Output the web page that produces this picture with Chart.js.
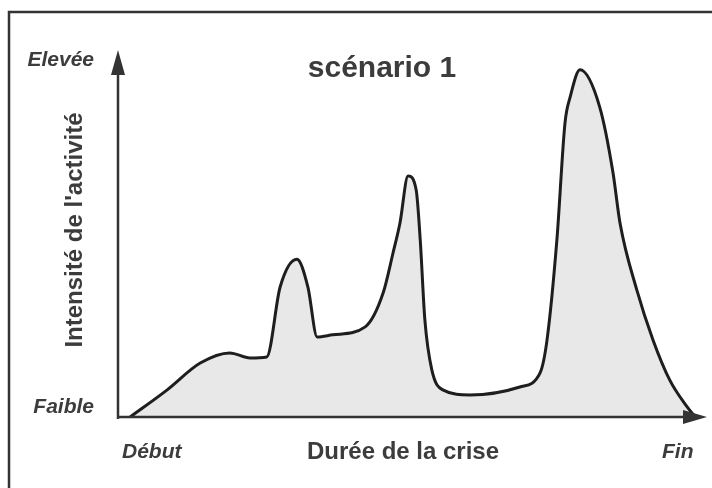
<!DOCTYPE html>
<html>
<head>
<meta charset="utf-8">
<script src="https://cdn.jsdelivr.net/npm/chart.js@4/dist/chart.umd.min.js"></script>
<style>
  body { margin: 0; background: #fff; }
  #wrap { width: 712px; height: 488px; position: relative; }
</style>
</head>
<body>
<div id="wrap"><canvas id="crisisChart" width="712" height="488"></canvas></div>
<script>
// time along the crisis (0 = début, 100 = fin)
const timeSteps = [2.1, 8.5, 14.2, 19.3, 22.8, 25.7, 28.0, 30.9, 32.8, 34.4, 37.1, 42.7, 45.8, 47.5, 48.7, 50.1, 51.5, 52.2, 53.0, 54.2, 56.1, 60.8, 69.4, 72.9, 74.1, 75.8, 77.2, 78.1, 79.8, 83.2, 85.5, 86.7, 89.6, 92.4, 95.3, 98.3, 99.7];
// activity intensity (0 = faible, 100 = élevée)
const intensity = [0, 7.5, 14.9, 17.7, 16.3, 16.6, 35.9, 43.6, 35.9, 22.1, 22.7, 24.9, 34.3, 45.3, 53.6, 66.6, 62.7, 48.9, 26.8, 13.0, 7.5, 6.1, 8.3, 12.2, 21.3, 48.9, 81.2, 88.4, 95.9, 85.6, 67.4, 53.6, 35.1, 21.3, 10.2, 2.8, 0];

const chartTitle = 'scénario 1';
const yTitle = "Intensité de l'activité";
const xTitle = 'Durée de la crise';
const yLabels = ['Faible', 'Elevée'];
const xLabels = ['Début', 'Fin'];

const points = timeSteps.map((t, i) => ({ x: t, y: intensity[i] }));

// frame, arrows and all the text
const decorations = {
    id: 'decorations',
    afterDraw(chart) {
        const ctx = chart.ctx;
        const x0 = chart.scales.x.getPixelForValue(0);
        const y0 = chart.scales.y.getPixelForValue(0);
        ctx.save();
        ctx.strokeStyle = '#333';
        ctx.fillStyle = '#333';

        // outer frame (top + left only)
        ctx.lineWidth = 2.5;
        ctx.beginPath();
        ctx.moveTo(9, 488);
        ctx.lineTo(9, 12);
        ctx.lineTo(712, 12);
        ctx.stroke();

        // axes
        ctx.beginPath();
        ctx.moveTo(x0, y0 + 2);
        ctx.lineTo(x0, 70);
        ctx.moveTo(x0 - 1, y0);
        ctx.lineTo(690, y0);
        ctx.stroke();
        // arrow heads
        ctx.beginPath();
        ctx.moveTo(x0, 50);
        ctx.lineTo(x0 - 7, 75);
        ctx.lineTo(x0 + 7, 75);
        ctx.closePath();
        ctx.fill();
        ctx.beginPath();
        ctx.moveTo(707, y0);
        ctx.lineTo(683, y0 - 7);
        ctx.lineTo(683, y0 + 7);
        ctx.closePath();
        ctx.fill();

        // texts
        ctx.fillStyle = '#3c3c3c';
        ctx.textBaseline = 'middle';
        ctx.textAlign = 'center';
        ctx.font = 'bold 30px "Liberation Sans", Arial, sans-serif';
        ctx.fillText(chartTitle, 382, 69);

        ctx.font = 'bold 24px "Liberation Sans", Arial, sans-serif';
        ctx.fillText(xTitle, 403, 452);

        ctx.save();
        ctx.translate(75, 230);
        ctx.rotate(-Math.PI / 2);
        ctx.fillText(yTitle, 0, 0);
        ctx.restore();

        ctx.font = 'italic bold 21px "Liberation Sans", Arial, sans-serif';
        ctx.textAlign = 'right';
        ctx.fillText(yLabels[1], 94, 60);
        ctx.fillText(yLabels[0], 94, 407);
        ctx.textAlign = 'left';
        ctx.fillText(xLabels[0], 122, 452);
        ctx.fillText(xLabels[1], 662, 452);
        ctx.restore();
    }
};

new Chart(document.getElementById('crisisChart').getContext('2d'), {
    type: 'line',
    data: {
        datasets: [{
            data: points,
            borderColor: '#1e1e1e',
            borderWidth: 3,
            backgroundColor: '#e8e8e8',
            fill: 'origin',
            pointRadius: 0,
            cubicInterpolationMode: 'monotone'
        }]
    },
    options: {
        responsive: false,
        animation: false,
        layout: { padding: { left: 118, top: 55, right: 15, bottom: 71 } },
        plugins: { legend: { display: false }, tooltip: { enabled: false } },
        scales: {
            x: { type: 'linear', min: 0, max: 100, display: false },
            y: { min: 0, max: 100, display: false }
        }
    },
    plugins: [decorations]
});
</script>
</body>
</html>
